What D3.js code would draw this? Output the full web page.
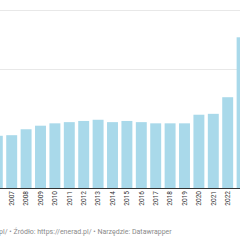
<!DOCTYPE html>
<html>
<head>
<meta charset="utf-8">
<script src="https://cdn.jsdelivr.net/npm/d3@7"></script>
<style>
  body { margin: 0; background: #fff; }
  svg { display: block; font-family: Roboto, "Noto Sans", sans-serif; }
</style>
</head>
<body>
<div id="chart"></div>
<script>
// data (units: gridline every 100)
var years = ["2006","2007","2008","2009","2010","2011","2012","2013","2014",
             "2015","2016","2017","2018","2019","2020","2021","2022","2023"];
var values = [88, 89, 99, 105, 109, 111, 113, 115, 111,
              113, 111, 109, 109, 109, 123.5, 125, 153, 254];
var gridTicks = [200, 300];
var labelYears = years.slice(1, 17);
var footer = "Autor: https://enerad.pl/ \u2022 \u0179r\u00f3d\u0142o: https://enerad.pl/ \u2022 Narz\u0119dzie: Datawrapper";

function init(){
    var w = 240;
    var h = 240;
    var baseY = 188;

    var svg = d3.select("#chart")
      .append("svg")
      .attr("width", w)
      .attr("height", h);

    // band step ~14.4px, 2006 centred just left of the edge
    var xScale = d3.scaleBand()
      .domain(years)
      .range([-9.9, -9.9 + years.length * 14.4])
      .paddingInner(0.24)
      .paddingOuter(0.12);

    var yScale = d3.scaleLinear()
      .domain([0, 300])
      .range([baseY, 10]);

    // gridlines
    svg.append("g")
      .selectAll("line")
      .data(gridTicks)
      .enter()
      .append("line")
      .attr("x1", 0)
      .attr("x2", w)
      .attr("y1", function(d){ return Math.round(yScale(d)) + 0.5; })
      .attr("y2", function(d){ return Math.round(yScale(d)) + 0.5; })
      .attr("stroke", "#e8e8e8")
      .attr("stroke-width", 1);

    // bars
    svg.append("g")
      .selectAll("rect")
      .data(years)
      .enter()
      .append("rect")
      .attr("x", function(d){ return xScale(d); })
      .attr("y", function(d, i){ return yScale(values[i]); })
      .attr("width", xScale.bandwidth())
      .attr("height", function(d, i){ return baseY - yScale(values[i]); })
      .attr("fill", "#a9d9ea");

    // baseline
    svg.append("line")
      .attr("x1", 0)
      .attr("x2", w)
      .attr("y1", baseY + 0.5)
      .attr("y2", baseY + 0.5)
      .attr("stroke", "#333")
      .attr("stroke-width", 1);

    // rotated year labels
    svg.append("g")
      .selectAll("text")
      .data(labelYears)
      .enter()
      .append("text")
      .attr("transform", function(d){
        var cx = xScale(d) + xScale.bandwidth() / 2;
        return "translate(" + (cx + 2.2) + "," + (baseY + 3) + ") rotate(-90)";
      })
      .attr("text-anchor", "end")
      .attr("font-size", "6.5px")
      .attr("fill", "#333")
      .text(function(d){ return d; });

    // footer
    svg.append("text")
      .attr("x", 171.7)
      .attr("y", 234)
      .attr("text-anchor", "end")
      .attr("font-size", "7px")
      .attr("fill", "#8a8a8a")
      .text(footer);
}

window.onload = init;
</script>
</body>
</html>
